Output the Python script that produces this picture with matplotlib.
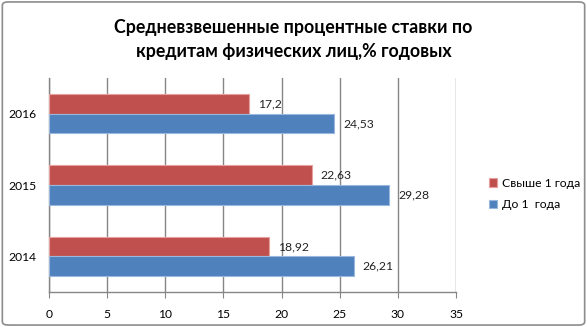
import matplotlib

matplotlib.use("Agg")
import matplotlib.pyplot as plt
from matplotlib.patches import FancyBboxPatch

years = ["2014", "2015", "2016"]
over_1y = [18.92, 22.63, 17.2]
upto_1y = [26.21, 29.28, 24.53]
over_labels = ["18,92", "22,63", "17,2"]
upto_labels = ["26,21", "29,28", "24,53"]
xticks = [0, 5, 10, 15, 20, 25, 30, 35]

plt.rcParams["font.family"] = ["Lato", "DejaVu Sans"]

RED = "#C0504D"
BLUE = "#4F81BD"
GRID = "#868686"
FS = 8.7

fig = plt.figure(figsize=(5.87, 3.27), dpi=100)
fig.patches.append(
    FancyBboxPatch((0.004, 0.006), 0.992, 0.988, boxstyle="round,pad=0,rounding_size=0.01",
                   transform=fig.transFigure, facecolor="white", edgecolor="#8c8c8c",
                   linewidth=1.2, zorder=-1)
)

ax = fig.add_axes([49 / 587, 1 - 292 / 327, (456 - 49) / 587, (292 - 78) / 327])
ax.set_facecolor("none")

h = 0.275
ypos = list(range(len(years)))
red_y = [y + h / 2 for y in ypos]
blue_y = [y - h / 2 for y in ypos]

ax.barh(red_y, over_1y, height=h, color=RED, edgecolor="#e8a09e", linewidth=0.8,
        label="Свыше 1 года", zorder=3)
ax.barh(blue_y, upto_1y, height=h, color=BLUE, edgecolor="#9ab7dd", linewidth=0.8,
        label="До 1  года", zorder=3)

for y, v, t in zip(red_y, over_1y, over_labels):
    ax.text(v + 0.75, y, t, va="center", ha="left", fontsize=FS, color="#222222")
for y, v, t in zip(blue_y, upto_1y, upto_labels):
    ax.text(v + 0.75, y, t, va="center", ha="left", fontsize=FS, color="#222222")

ax.set_xlim(0, 35)
ax.set_ylim(-0.5, 2.5)
ax.set_xticks(xticks)
ax.set_xticklabels([str(x) for x in xticks], fontsize=FS)
ax.set_yticks(ypos)
ax.set_yticklabels(years, fontsize=FS)
ax.tick_params(axis="y", length=0, pad=9)
ax.tick_params(axis="x", length=4, color=GRID, pad=8)
ax.xaxis.grid(True, color=GRID, linewidth=1.0, zorder=0)
ax.set_axisbelow(True)
for side in ["top", "right"]:
    ax.spines[side].set_visible(False)
for side in ["left", "bottom"]:
    ax.spines[side].set_color(GRID)
    ax.spines[side].set_linewidth(1.0)

fig.text(0.5, 1 - 39 / 327, "Средневзвешенные процентные ставки по\nкредитам физических лиц,% годовых",
         ha="center", va="center", fontsize=12.8, fontweight="bold", linespacing=1.5)

handles, labels = ax.get_legend_handles_labels()
fig.legend(handles, labels, loc="center left", bbox_to_anchor=(478 / 587, 1 - 194 / 327),
           frameon=False, fontsize=FS, handlelength=0.7, handleheight=0.7,
           handletextpad=0.35, labelspacing=0.9)

fig.savefig("out.png", dpi=100)
